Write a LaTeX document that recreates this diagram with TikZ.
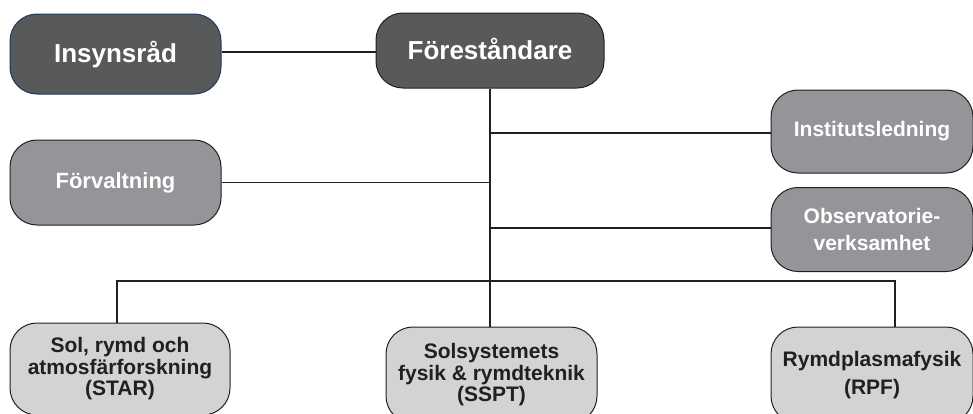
\documentclass[tikz,border=0pt]{standalone}
\usepackage{fontspec}
\setmainfont{Liberation Sans}
\definecolor{darkbox}{HTML}{58595B}
\definecolor{midbox}{HTML}{939598}
\definecolor{lightbox}{HTML}{D1D3D4}
\definecolor{edge}{HTML}{231F20}
\definecolor{blueedge}{RGB}{31,56,100}
\begin{document}
\begin{tikzpicture}[x=1pt,y=-1pt,
  box/.style={draw=edge,line width=1pt,rounded corners=27pt,align=center,
    inner sep=0pt,font=\bfseries},
  darkb/.style={box,fill=darkbox,text=white,font=\bfseries\fontsize{26}{30}\selectfont},
  midb/.style={box,fill=midbox,text=white,font=\bfseries\fontsize{21}{27}\selectfont},
  lightb/.style={box,fill=lightbox,text=edge,font=\bfseries\fontsize{21}{21.5}\selectfont},
  link/.style={draw=edge,line width=1.8pt}]
\useasboundingbox (0,0) rectangle (973,413);

\node[darkb,draw=blueedge,minimum width=211pt,minimum height=80pt] (ins) at (115.5,54) {\raisebox{1pt}{Insynsråd}};
\node[darkb,minimum width=228pt,minimum height=75pt] (fore) at (490,50.5) {\raisebox{3pt}{Föreståndare}};
\node[midb,font=\bfseries\fontsize{22}{27}\selectfont,minimum width=211pt,minimum height=85pt] (forv) at (115.5,182.5) {\raisebox{4pt}{Förvaltning}};
\node[midb,minimum width=202pt,minimum height=83pt] (inst) at (872,131.5) {\raisebox{2pt}{Institutsledning}};
\node[midb,minimum width=202pt,minimum height=84pt] (obs) at (872,229.5) {Observatorie-\\verksamhet};
\node[lightb,minimum width=220pt,minimum height=92pt] (star) at (120,369) {\raisebox{2pt}{\parbox{200pt}{\centering Sol, rymd och\\atmosfärforskning\\(STAR)}}};
\node[lightb,minimum width=211pt,minimum height=96pt] (sspt) at (491.5,375) {Solsystemets\\fysik \& rymdteknik\\(SSPT)};
\node[lightb,font=\bfseries\fontsize{21}{28}\selectfont,minimum width=202pt,minimum height=96pt] (rpf) at (872,375) {\raisebox{2pt}{\parbox{190pt}{\centering Rymdplasmafysik\\(RPF)}}};

\coordinate (bl) at (117,281);
\coordinate (br) at (895,281);

\draw[link] (ins.east |- 0,52) -- (fore.west |- 0,52);
\draw[link] (fore.south) -- (fore.south |- sspt.north);
\draw[link] (inst.west |- 0,133) -- (fore.south |- 0,133);
\draw[link] (forv.east) -- (forv.east -| fore.south);
\draw[link] (obs.west |- 0,228) -- (fore.south |- 0,228);
\draw[link] (star.north -| bl) -- (bl) -- (br) -- (rpf.north -| br);
\end{tikzpicture}
\end{document}
